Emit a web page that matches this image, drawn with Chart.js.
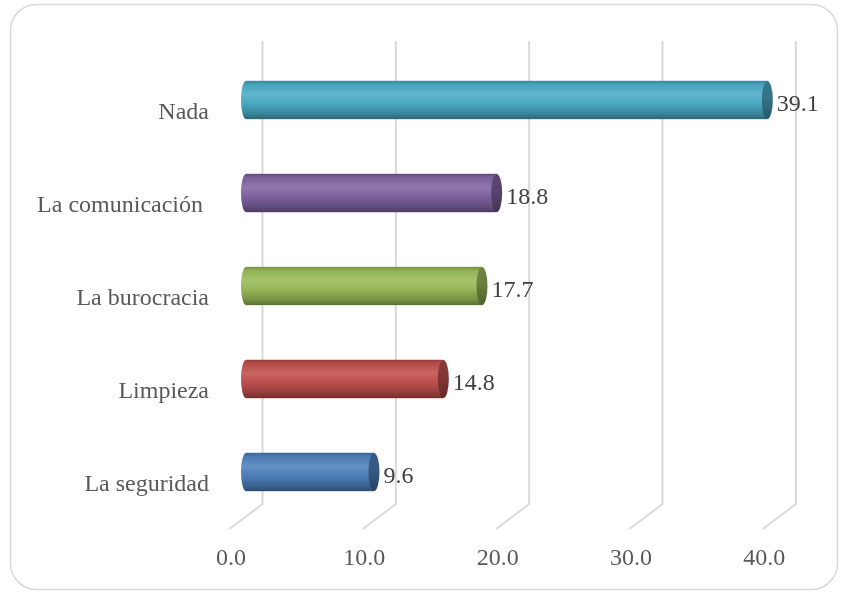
<!DOCTYPE html>
<html>
<head>
<meta charset="utf-8">
<script src="https://cdn.jsdelivr.net/npm/chart.js@4/dist/chart.umd.min.js"></script>
<style>
html,body{margin:0;padding:0;background:#fff;}
canvas{display:block;}
</style>
</head>
<body>
<canvas id="c" width="841" height="593"></canvas>
<script>
const categories = ["Nada", "La comunicación ", "La burocracia", "Limpieza", "La seguridad"];
const values = [39.1, 18.8, 17.7, 14.8, 9.6];
const colors = ["#4BACC6", "#8064A2", "#9BBB59", "#C0504D", "#4F81BD"];
const xTicks = [0, 10, 20, 30, 40];

const FONT = "'Liberation Serif', serif";
const BAR_H = 38;

function shade(hex, f) {
  const n = parseInt(hex.slice(1), 16);
  let r = (n >> 16) & 255, g = (n >> 8) & 255, b = n & 255;
  if (f >= 1) {
    r = r + (255 - r) * (f - 1); g = g + (255 - g) * (f - 1); b = b + (255 - b) * (f - 1);
  } else { r *= f; g *= f; b *= f; }
  return `rgb(${Math.round(r)},${Math.round(g)},${Math.round(b)})`;
}
function bodyGradient(ctx, top, bottom, base) {
  const g = ctx.createLinearGradient(0, top, 0, bottom);
  g.addColorStop(0, shade(base, 0.78));
  g.addColorStop(0.1, shade(base, 0.95));
  g.addColorStop(0.35, shade(base, 1.12));
  g.addColorStop(0.6, shade(base, 0.97));
  g.addColorStop(0.85, shade(base, 0.78));
  g.addColorStop(1, shade(base, 0.6));
  return g;
}

const framePlugin = {
  id: 'frame',
  beforeDraw(chart) {
    const ctx = chart.ctx;
    ctx.save();
    ctx.fillStyle = '#fff';
    ctx.fillRect(0, 0, chart.width, chart.height);
    ctx.strokeStyle = '#d9d9d9';
    ctx.lineWidth = 1.5;
    ctx.beginPath();
    ctx.roundRect(10.5, 4.5, 827, 585, 26);
    ctx.stroke();
    ctx.restore();
  }
};

const gridPlugin = {
  id: 'grid3d',
  beforeDatasetsDraw(chart) {
    const ctx = chart.ctx;
    const xs = chart.scales.x;
    ctx.save();
    ctx.strokeStyle = '#d9d9d9';
    ctx.lineWidth = 2;
    xTicks.forEach(v => {
      const px = xs.getPixelForValue(v);
      ctx.beginPath();
      ctx.moveTo(px + 16.5, 41);
      ctx.lineTo(px + 16.5, 504);
      ctx.lineTo(px - 16.5, 529);
      ctx.stroke();
    });
    ctx.restore();
  }
};

const cylPlugin = {
  id: 'cyl',
  afterDatasetsDraw(chart) {
    const ctx = chart.ctx;
    const meta = chart.getDatasetMeta(0);
    ctx.save();
    meta.data.forEach((bar, i) => {
      const h = bar.height;
      const top = bar.y - h / 2, bottom = bar.y + h / 2;
      const base = colors[i];
      const bg = bodyGradient(ctx, top, bottom, base);
      // body shading over the library bar
      ctx.fillStyle = bg;
      ctx.fillRect(bar.base, top, bar.x - bar.base, h);
      // left rounded end
      ctx.beginPath();
      ctx.ellipse(bar.base, bar.y, 5, h / 2, 0, Math.PI / 2, Math.PI * 1.5);
      ctx.fill();
      // right end cap
      const cg = ctx.createLinearGradient(0, top, 0, bottom);
      cg.addColorStop(0, shade(base, 0.7));
      cg.addColorStop(0.45, shade(base, 0.68));
      cg.addColorStop(1, shade(base, 0.52));
      ctx.fillStyle = cg;
      ctx.beginPath();
      ctx.ellipse(bar.x, bar.y, 5.5, h / 2, 0, 0, Math.PI * 2);
      ctx.fill();
      // value label
      ctx.fillStyle = '#404040';
      ctx.font = '24px ' + FONT;
      ctx.textAlign = 'left';
      ctx.textBaseline = 'middle';
      ctx.fillText(values[i].toFixed(1), bar.x + 9.5, bar.y + 5);
    });
    ctx.restore();
  }
};

new Chart(document.getElementById('c'), {
  type: 'bar',
  data: {
    labels: categories,
    datasets: [{
      data: values,
      barThickness: BAR_H,
      borderWidth: 0,
      backgroundColor: colors
    }]
  },
  options: {
    indexAxis: 'y',
    responsive: false,
    animation: false,
    devicePixelRatio: 1,
    layout: { padding: { top: 53.5, right: 61.67, bottom: 0, left: 0 } },
    plugins: { legend: { display: false }, tooltip: { enabled: false } },
    scales: {
      x: {
        type: 'linear',
        min: 0, max: 40,
        grid: { display: false, drawTicks: false },
        border: { display: false },
        afterFit(s) { s.height = 74.5; },
        afterBuildTicks(s) { s.ticks = xTicks.map(v => ({ value: v })); },
        ticks: {
          padding: 26,
          labelOffset: -15,
          color: '#595959',
          font: { family: FONT, size: 24 },
          callback: v => Number(v).toFixed(1)
        }
      },
      y: {
        grid: { display: false, drawTicks: false },
        border: { display: false },
        afterFit(s) { s.width = 246; },
        ticks: {
          padding: 37,
          labelOffset: 13,
          color: '#595959',
          font: { family: FONT, size: 24 }
        }
      }
    }
  },
  plugins: [framePlugin, gridPlugin, cylPlugin]
});
</script>
</body>
</html>
